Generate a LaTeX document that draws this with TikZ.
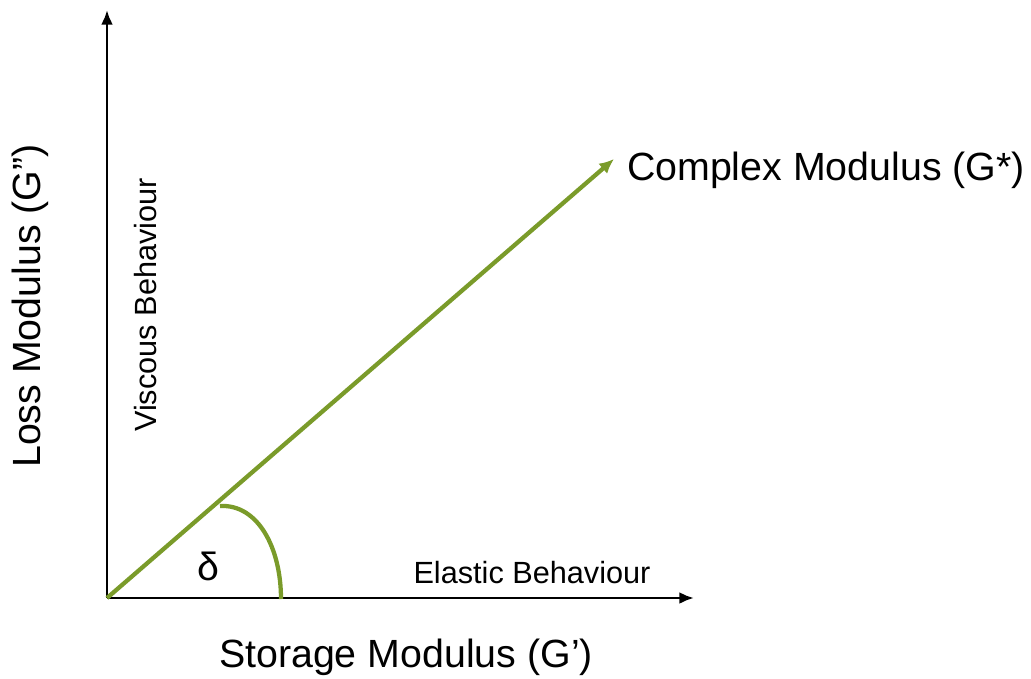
\documentclass[tikz,border=0pt]{standalone}
\usepackage{fontspec}
\setmainfont{Liberation Sans}
\usetikzlibrary{arrows.meta}
\definecolor{olivegreen}{RGB}{122,155,42}
\begin{document}
\begin{tikzpicture}[x=0.75pt,y=-0.75pt,
  axis/.style={line width=2.2pt,-{Latex[length=11pt,width=9pt]}},
  vec/.style={line width=3.2pt,olivegreen,-{Latex[length=11pt,width=10pt]}},
  big/.style={font=\fontsize{29.5}{32}\selectfont,inner sep=0pt},
  small/.style={font=\fontsize{23}{26}\selectfont,inner sep=0pt}]
\useasboundingbox (0,0) rectangle (1031,678);
\coordinate (O) at (107,598);
\coordinate (ytop) at (107,10);
\coordinate (xend) at (694,598);
\coordinate (vtip) at (614,159);
\coordinate (arcA) at (220,506);
\coordinate (arcB) at (281,599);
\draw[axis] (O) -- (ytop);
\draw[axis] (O) -- (xend);
\draw[vec] (O) -- (vtip);
\draw[olivegreen,line width=3.2pt] (arcA) .. controls (258,504) and (281,548) .. (arcB);
\node[big] (cm) at (826,170) {Complex Modulus (G*)};
\node[big] (sm) at (406,657) {Storage Modulus (G’)};
\node[big,rotate=90] (lm) at (30,306) {Loss Modulus (G”)};
\node[small,rotate=90] (vb) at (146,305) {Viscous Behaviour};
\node[small] (eb) at (532,573) {Elastic Behaviour};
\node[big] (d) at (208,566) {δ};
\end{tikzpicture}
\end{document}
